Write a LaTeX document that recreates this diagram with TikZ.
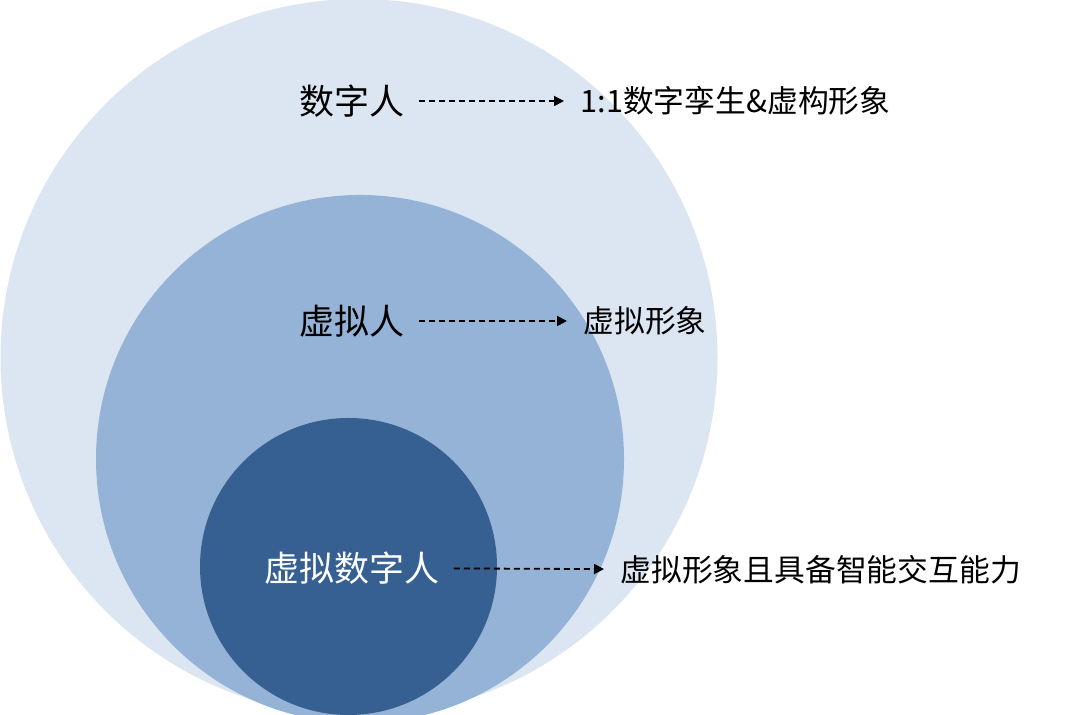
\documentclass[tikz,border=0pt]{standalone}
\usepackage{fontspec}
\setmainfont{Noto Sans CJK SC}
\usepackage{xcolor}
\usepackage{tikz}
\usetikzlibrary{arrows.meta,positioning}
\definecolor{ringlight}{HTML}{DCE6F2}
\definecolor{ringmid}{HTML}{95B3D7}
\definecolor{ringdark}{HTML}{366092}

\begin{document}
\begin{tikzpicture}[x=0.5pt, y=0.5pt,
    setlabel/.style={font=\fontsize{17.5}{20}\selectfont, inner sep=0pt},
    desc/.style={font=\fontsize{15.4}{18}\selectfont, inner sep=0pt, anchor=west},
    pointer/.style={-{Triangle[length=5pt,width=5pt]}, dash pattern=on 3pt off 2pt, line width=0.9pt, shorten <=7pt, shorten >=8pt}]
        \useasboundingbox (0,0) rectangle (1080,715);
        \begin{scope}
          \clip (0,0) rectangle (1080,715);
          % nested sets
          \fill[ringlight] (359, 357.5) circle (358.5);
          \fill[ringmid] (360, 256) circle (264);
          \fill[ringdark] (348.5, 148.5) circle (148.5);
        \end{scope}
        % labels inside the sets
        \node[setlabel] (szr) at (352, 614) {数字人};
        \node[setlabel] (xnr) at (352, 394) {虚拟人};
        \node[setlabel, white] (xnszr) at (352, 147) {虚拟数字人};
        % descriptions on the right
        \node[desc] (szrdesc) at (580, 614) {1:1数字孪生\&虚构形象};
        \node[desc] (xnrdesc) at (583, 394) {虚拟形象};
        \node[desc] (xnszrdesc) at (620, 145) {虚拟形象且具备智能交互能力};
        % dashed pointers
        \draw[pointer] (szr) -- (szrdesc);
        \draw[pointer] (xnr) -- (xnrdesc);
        \draw[pointer] (xnszr) -- (xnszrdesc);
\end{tikzpicture}
\end{document}
